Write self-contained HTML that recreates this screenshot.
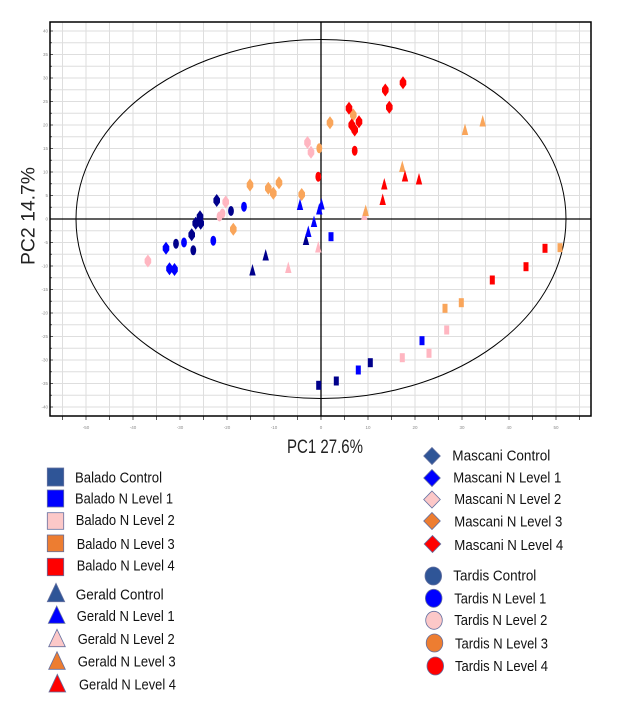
<!DOCTYPE html>
<html>
<head>
<meta charset="utf-8">
<style>
html,body{margin:0;padding:0;background:#fff;}
svg{display:block;}
text{font-family:"Liberation Sans",sans-serif;}
</style>
</head>
<body>
<svg width="618" height="720" viewBox="0 0 618 720" xmlns="http://www.w3.org/2000/svg">
<rect x="0" y="0" width="618" height="720" fill="#fff"/>

<!-- gridlines -->
<g stroke="#dedede" stroke-width="1">
  <line x1="62.5" y1="22" x2="62.5" y2="416"/>
  <line x1="86" y1="22" x2="86" y2="416"/>
  <line x1="109.5" y1="22" x2="109.5" y2="416"/>
  <line x1="133" y1="22" x2="133" y2="416"/>
  <line x1="156.5" y1="22" x2="156.5" y2="416"/>
  <line x1="180" y1="22" x2="180" y2="416"/>
  <line x1="203.5" y1="22" x2="203.5" y2="416"/>
  <line x1="227" y1="22" x2="227" y2="416"/>
  <line x1="250.5" y1="22" x2="250.5" y2="416"/>
  <line x1="274" y1="22" x2="274" y2="416"/>
  <line x1="297.5" y1="22" x2="297.5" y2="416"/>
  <line x1="344.5" y1="22" x2="344.5" y2="416"/>
  <line x1="368" y1="22" x2="368" y2="416"/>
  <line x1="391.5" y1="22" x2="391.5" y2="416"/>
  <line x1="415" y1="22" x2="415" y2="416"/>
  <line x1="438.5" y1="22" x2="438.5" y2="416"/>
  <line x1="462" y1="22" x2="462" y2="416"/>
  <line x1="485.5" y1="22" x2="485.5" y2="416"/>
  <line x1="509" y1="22" x2="509" y2="416"/>
  <line x1="532.5" y1="22" x2="532.5" y2="416"/>
  <line x1="556" y1="22" x2="556" y2="416"/>
  <line x1="579.5" y1="22" x2="579.5" y2="416"/>
  <line x1="50" y1="31" x2="591" y2="31"/>
  <line x1="50" y1="42.75" x2="591" y2="42.75"/>
  <line x1="50" y1="54.5" x2="591" y2="54.5"/>
  <line x1="50" y1="66.25" x2="591" y2="66.25"/>
  <line x1="50" y1="78" x2="591" y2="78"/>
  <line x1="50" y1="89.75" x2="591" y2="89.75"/>
  <line x1="50" y1="101.5" x2="591" y2="101.5"/>
  <line x1="50" y1="113.25" x2="591" y2="113.25"/>
  <line x1="50" y1="125" x2="591" y2="125"/>
  <line x1="50" y1="136.75" x2="591" y2="136.75"/>
  <line x1="50" y1="148.5" x2="591" y2="148.5"/>
  <line x1="50" y1="160.25" x2="591" y2="160.25"/>
  <line x1="50" y1="172" x2="591" y2="172"/>
  <line x1="50" y1="183.75" x2="591" y2="183.75"/>
  <line x1="50" y1="195.5" x2="591" y2="195.5"/>
  <line x1="50" y1="207.25" x2="591" y2="207.25"/>
  <line x1="50" y1="230.75" x2="591" y2="230.75"/>
  <line x1="50" y1="242.5" x2="591" y2="242.5"/>
  <line x1="50" y1="254.25" x2="591" y2="254.25"/>
  <line x1="50" y1="266" x2="591" y2="266"/>
  <line x1="50" y1="277.75" x2="591" y2="277.75"/>
  <line x1="50" y1="289.5" x2="591" y2="289.5"/>
  <line x1="50" y1="301.25" x2="591" y2="301.25"/>
  <line x1="50" y1="313" x2="591" y2="313"/>
  <line x1="50" y1="324.75" x2="591" y2="324.75"/>
  <line x1="50" y1="336.5" x2="591" y2="336.5"/>
  <line x1="50" y1="348.25" x2="591" y2="348.25"/>
  <line x1="50" y1="360" x2="591" y2="360"/>
  <line x1="50" y1="371.75" x2="591" y2="371.75"/>
  <line x1="50" y1="383.5" x2="591" y2="383.5"/>
  <line x1="50" y1="395.25" x2="591" y2="395.25"/>
  <line x1="50" y1="407" x2="591" y2="407"/>
</g>

<!-- ticks -->
<g stroke="#333" stroke-width="0.8">
  <line x1="50" y1="31" x2="53" y2="31"/><line x1="50" y1="42.75" x2="52" y2="42.75"/>
  <line x1="50" y1="54.5" x2="53" y2="54.5"/><line x1="50" y1="66.25" x2="52" y2="66.25"/>
  <line x1="50" y1="78" x2="53" y2="78"/><line x1="50" y1="89.75" x2="52" y2="89.75"/>
  <line x1="50" y1="101.5" x2="53" y2="101.5"/><line x1="50" y1="113.25" x2="52" y2="113.25"/>
  <line x1="50" y1="125" x2="53" y2="125"/><line x1="50" y1="136.75" x2="52" y2="136.75"/>
  <line x1="50" y1="148.5" x2="53" y2="148.5"/><line x1="50" y1="160.25" x2="52" y2="160.25"/>
  <line x1="50" y1="172" x2="53" y2="172"/><line x1="50" y1="183.75" x2="52" y2="183.75"/>
  <line x1="50" y1="195.5" x2="53" y2="195.5"/><line x1="50" y1="207.25" x2="52" y2="207.25"/>
  <line x1="50" y1="230.75" x2="52" y2="230.75"/>
  <line x1="50" y1="242.5" x2="53" y2="242.5"/><line x1="50" y1="254.25" x2="52" y2="254.25"/>
  <line x1="50" y1="266" x2="53" y2="266"/><line x1="50" y1="277.75" x2="52" y2="277.75"/>
  <line x1="50" y1="289.5" x2="53" y2="289.5"/><line x1="50" y1="301.25" x2="52" y2="301.25"/>
  <line x1="50" y1="313" x2="53" y2="313"/><line x1="50" y1="324.75" x2="52" y2="324.75"/>
  <line x1="50" y1="336.5" x2="53" y2="336.5"/><line x1="50" y1="348.25" x2="52" y2="348.25"/>
  <line x1="50" y1="360" x2="53" y2="360"/><line x1="50" y1="371.75" x2="52" y2="371.75"/>
  <line x1="50" y1="383.5" x2="53" y2="383.5"/><line x1="50" y1="395.25" x2="52" y2="395.25"/>
  <line x1="50" y1="407" x2="53" y2="407"/>
  <line x1="62.5" y1="416" x2="62.5" y2="420"/><line x1="86" y1="416" x2="86" y2="420"/>
  <line x1="109.5" y1="416" x2="109.5" y2="420"/><line x1="133" y1="416" x2="133" y2="420"/>
  <line x1="156.5" y1="416" x2="156.5" y2="420"/><line x1="180" y1="416" x2="180" y2="420"/>
  <line x1="203.5" y1="416" x2="203.5" y2="420"/><line x1="227" y1="416" x2="227" y2="420"/>
  <line x1="250.5" y1="416" x2="250.5" y2="420"/><line x1="274" y1="416" x2="274" y2="420"/>
  <line x1="297.5" y1="416" x2="297.5" y2="420"/><line x1="321" y1="416" x2="321" y2="420"/>
  <line x1="344.5" y1="416" x2="344.5" y2="420"/><line x1="368" y1="416" x2="368" y2="420"/>
  <line x1="391.5" y1="416" x2="391.5" y2="420"/><line x1="415" y1="416" x2="415" y2="420"/>
  <line x1="438.5" y1="416" x2="438.5" y2="420"/><line x1="462" y1="416" x2="462" y2="420"/>
  <line x1="485.5" y1="416" x2="485.5" y2="420"/><line x1="509" y1="416" x2="509" y2="420"/>
  <line x1="532.5" y1="416" x2="532.5" y2="420"/><line x1="556" y1="416" x2="556" y2="420"/>
  <line x1="579.5" y1="416" x2="579.5" y2="420"/>
</g>

<!-- tick labels -->
<g font-size="4.5" fill="#8a8a8a" text-anchor="end">
  <text x="48" y="32.5">40</text><text x="48" y="56">35</text><text x="48" y="79.5">30</text>
  <text x="48" y="103">25</text><text x="48" y="126.5">20</text><text x="48" y="150">15</text>
  <text x="48" y="173.5">10</text><text x="48" y="197">5</text><text x="48" y="220.5">0</text>
  <text x="48" y="244">-5</text><text x="48" y="267.5">-10</text><text x="48" y="291">-15</text>
  <text x="48" y="314.5">-20</text><text x="48" y="338">-25</text><text x="48" y="361.5">-30</text>
  <text x="48" y="385">-35</text><text x="48" y="408.5">-40</text>
</g>
<g font-size="4.5" fill="#8a8a8a" text-anchor="middle">
  <text x="86" y="429">-50</text><text x="133" y="429">-40</text><text x="180" y="429">-30</text>
  <text x="227" y="429">-20</text><text x="274" y="429">-10</text><text x="321" y="429">0</text>
  <text x="368" y="429">10</text><text x="415" y="429">20</text><text x="462" y="429">30</text>
  <text x="509" y="429">40</text><text x="556" y="429">50</text>
</g>

<!-- axes through origin -->
<line x1="321" y1="22" x2="321" y2="416" stroke="#000" stroke-width="1.3"/>
<line x1="50" y1="219" x2="591" y2="219" stroke="#000" stroke-width="1.3"/>

<!-- ellipse -->
<ellipse cx="321" cy="219" rx="245" ry="179.5" fill="none" stroke="#000" stroke-width="1"/>

<!-- frame -->
<rect x="50" y="22" width="541" height="394" fill="none" stroke="#000" stroke-width="1.5"/>

<defs>
  <polygon id="dm" points="0,-6.5 3.3,-2 3.3,2 0,6.5 -3.3,2 -3.3,-2"/>
  <ellipse id="ci" cx="0" cy="0" rx="2.9" ry="5"/>
  <polygon id="tr" points="0,-6.5 1,-3 3.2,5 -3.2,5 -1,-3"/>
  <rect id="sq" x="-2.5" y="-4.5" width="5" height="9"/>
</defs>

<!-- Balado squares -->
<g fill="#00008b">
  <use href="#sq" x="318.7" y="385.3"/><use href="#sq" x="336.3" y="381"/><use href="#sq" x="370.3" y="362.7"/>
</g>
<g fill="#0000ff">
  <use href="#sq" x="358.3" y="370"/><use href="#sq" x="422" y="340.7"/><use href="#sq" x="331" y="236.7"/>
</g>
<g fill="#ffb6c1">
  <use href="#sq" x="402.3" y="357.7"/><use href="#sq" x="429" y="353.3"/><use href="#sq" x="446.7" y="330"/>
</g>
<g fill="#f9a55a">
  <use href="#sq" x="445" y="308.3"/><use href="#sq" x="461.3" y="302.7"/><use href="#sq" x="560" y="247.7"/>
</g>
<g fill="#ff0000">
  <use href="#sq" x="492.3" y="280"/><use href="#sq" x="526" y="266.7"/><use href="#sq" x="545" y="248.3"/>
</g>

<!-- Gerald triangles -->
<g fill="#00008b">
  <use href="#tr" x="306" y="240"/><use href="#tr" x="265.7" y="255.5"/><use href="#tr" x="252.5" y="270.5"/>
</g>
<g fill="#0000ff">
  <use href="#tr" x="300" y="205"/><use href="#tr" x="321.5" y="204.5"/><use href="#tr" x="319.3" y="209.5"/>
  <use href="#tr" x="314" y="222"/><use href="#tr" x="308.3" y="232"/>
</g>
<g fill="#ffb6c1">
  <use href="#tr" x="318.3" y="247.5"/><use href="#tr" x="288.3" y="268"/><use href="#tr" x="364.3" y="215"/>
</g>
<g fill="#f9a55a">
  <use href="#tr" x="402.3" y="167"/><use href="#tr" x="365.7" y="211"/><use href="#tr" x="465" y="130"/><use href="#tr" x="482.7" y="121.5"/>
</g>
<g fill="#ff0000">
  <use href="#tr" x="405" y="176.5"/><use href="#tr" x="419" y="179.5"/><use href="#tr" x="384.3" y="184.5"/><use href="#tr" x="382.7" y="200"/>
</g>

<!-- Mascani diamonds -->
<g fill="#00008b">
  <use href="#dm" x="216.7" y="200.5"/><use href="#dm" x="200" y="216.7"/><use href="#dm" x="195.7" y="223.3"/>
  <use href="#dm" x="200.7" y="223.3"/><use href="#dm" x="191.7" y="234.7"/>
</g>
<g fill="#0000ff">
  <use href="#dm" x="166" y="248.3"/><use href="#dm" x="169.5" y="268.7"/><use href="#dm" x="174.5" y="269.5"/>
</g>
<g fill="#ffb6c1">
  <use href="#dm" x="225.7" y="202"/><use href="#dm" x="147.9" y="261"/><use href="#dm" x="307.5" y="142.5"/><use href="#dm" x="311" y="152.3"/>
</g>
<g fill="#f9a55a">
  <use href="#dm" x="250" y="185"/><use href="#dm" x="268.3" y="188.3"/><use href="#dm" x="273.3" y="193.3"/>
  <use href="#dm" x="279" y="182.7"/><use href="#dm" x="301.7" y="194.5"/><use href="#dm" x="233.3" y="229.3"/>
  <use href="#dm" x="330" y="122.7"/><use href="#dm" x="353.3" y="115"/>
</g>
<g fill="#ff0000">
  <use href="#dm" x="403" y="82.7"/><use href="#dm" x="385.3" y="90"/><use href="#dm" x="389.3" y="107.3"/>
  <use href="#dm" x="349" y="108.3"/><use href="#dm" x="351.7" y="125"/><use href="#dm" x="359" y="121.7"/>
  <use href="#dm" x="354.7" y="130"/>
</g>

<!-- Tardis circles -->
<g fill="#00008b">
  <use href="#ci" x="231" y="211"/><use href="#ci" x="176" y="243.7"/><use href="#ci" x="193.3" y="250.3"/>
</g>
<g fill="#0000ff">
  <use href="#ci" x="244" y="206.7"/><use href="#ci" x="184" y="242.5"/><use href="#ci" x="213.3" y="240.7"/>
</g>
<g fill="#ffb6c1">
  <use href="#ci" x="219.5" y="216.5"/><use href="#ci" x="222.5" y="213.5"/>
</g>
<g fill="#f9a55a">
  <use href="#ci" x="319.3" y="148.3"/>
</g>
<g fill="#ff0000">
  <use href="#ci" x="318.3" y="176.7"/><use href="#ci" x="354.7" y="150.7"/>
</g>

<!-- axis titles -->
<text x="325" y="453" font-size="19" fill="#222" text-anchor="middle" textLength="76" lengthAdjust="spacingAndGlyphs">PC1 27.6%</text>
<text transform="translate(34.5,216) rotate(-90)" font-size="19" fill="#222" text-anchor="middle" textLength="98" lengthAdjust="spacingAndGlyphs">PC2 14.7%</text>

<!-- Legend: Balado -->
<g stroke="#6470a0" stroke-width="0.8">
  <rect x="47.3" y="468" width="16.4" height="18" fill="#2f5597"/>
  <rect x="47.3" y="490" width="16.4" height="17" fill="#0000ff"/>
  <rect x="47.3" y="512.7" width="16.4" height="16.6" fill="#fcc8c8"/>
  <rect x="47.3" y="535" width="16.4" height="16.7" fill="#ed7d31"/>
  <rect x="47.3" y="558.3" width="16.4" height="17.4" fill="#ff0000"/>
</g>
<g font-size="15" fill="#111">
  <text x="75" y="482.3" textLength="87" lengthAdjust="spacingAndGlyphs">Balado Control</text>
  <text x="75" y="503.3" textLength="98" lengthAdjust="spacingAndGlyphs">Balado N Level 1</text>
  <text x="75.7" y="525" textLength="99" lengthAdjust="spacingAndGlyphs">Balado N Level 2</text>
  <text x="76.7" y="549" textLength="98" lengthAdjust="spacingAndGlyphs">Balado N Level 3</text>
  <text x="76.7" y="570.7" textLength="98" lengthAdjust="spacingAndGlyphs">Balado N Level 4</text>
</g>

<!-- Legend: Gerald -->
<g stroke="#6470a0" stroke-width="0.8">
  <polygon points="56,583.3 64.7,601.7 47.3,601.7" fill="#2f5597"/>
  <polygon points="56.7,606 65,623.3 48.3,623.3" fill="#0000ff"/>
  <polygon points="57,629.3 65.3,646.7 48.7,646.7" fill="#fcc8c8"/>
  <polygon points="57,651.7 65.3,669.3 48.7,669.3" fill="#ed7d31"/>
  <polygon points="57.3,674.3 65.7,692 49,692" fill="#ff0000"/>
</g>
<g font-size="15" fill="#111">
  <text x="75.7" y="599.3" textLength="88" lengthAdjust="spacingAndGlyphs">Gerald Control</text>
  <text x="76.7" y="621" textLength="98" lengthAdjust="spacingAndGlyphs">Gerald N Level 1</text>
  <text x="77.7" y="644" textLength="97" lengthAdjust="spacingAndGlyphs">Gerald N Level 2</text>
  <text x="77.7" y="666.7" textLength="98" lengthAdjust="spacingAndGlyphs">Gerald N Level 3</text>
  <text x="79" y="689.3" textLength="97" lengthAdjust="spacingAndGlyphs">Gerald N Level 4</text>
</g>

<!-- Legend: Mascani -->
<g stroke="#6470a0" stroke-width="0.8">
  <polygon points="432,447.5 440.3,456 432,464.5 423.7,456" fill="#2f5597"/>
  <polygon points="432,469.5 440.3,478 432,486.5 423.7,478" fill="#0000ff"/>
  <polygon points="432,491 440.3,499.5 432,508 423.7,499.5" fill="#fcc8c8"/>
  <polygon points="432,512.5 440.3,521 432,529.5 423.7,521" fill="#ed7d31"/>
  <polygon points="432.5,535.5 440.8,544 432.5,552.5 424.2,544" fill="#ff0000"/>
</g>
<g font-size="15" fill="#111">
  <text x="452.3" y="460.7" textLength="98" lengthAdjust="spacingAndGlyphs">Mascani Control</text>
  <text x="453.3" y="482.7" textLength="108" lengthAdjust="spacingAndGlyphs">Mascani N Level 1</text>
  <text x="454.3" y="504" textLength="107" lengthAdjust="spacingAndGlyphs">Mascani N Level 2</text>
  <text x="454.3" y="526.7" textLength="108" lengthAdjust="spacingAndGlyphs">Mascani N Level 3</text>
  <text x="454.3" y="550" textLength="109" lengthAdjust="spacingAndGlyphs">Mascani N Level 4</text>
</g>

<!-- Legend: Tardis -->
<g stroke="#6470a0" stroke-width="0.8">
  <ellipse cx="433.3" cy="576" rx="8.3" ry="9" fill="#2f5597"/>
  <ellipse cx="433.7" cy="598.3" rx="8.3" ry="9" fill="#0000ff"/>
  <ellipse cx="434" cy="620.3" rx="8.3" ry="9" fill="#fcc8c8"/>
  <ellipse cx="434.5" cy="643" rx="8.3" ry="9" fill="#ed7d31"/>
  <ellipse cx="435.3" cy="666" rx="8.3" ry="9" fill="#ff0000"/>
</g>
<g font-size="15" fill="#111">
  <text x="453.3" y="580.7" textLength="83" lengthAdjust="spacingAndGlyphs">Tardis Control</text>
  <text x="454.3" y="603.3" textLength="92" lengthAdjust="spacingAndGlyphs">Tardis N Level 1</text>
  <text x="454.3" y="625" textLength="93" lengthAdjust="spacingAndGlyphs">Tardis N Level 2</text>
  <text x="455" y="648.3" textLength="93" lengthAdjust="spacingAndGlyphs">Tardis N Level 3</text>
  <text x="455" y="671" textLength="93" lengthAdjust="spacingAndGlyphs">Tardis N Level 4</text>
</g>
</svg>
</body>
</html>
